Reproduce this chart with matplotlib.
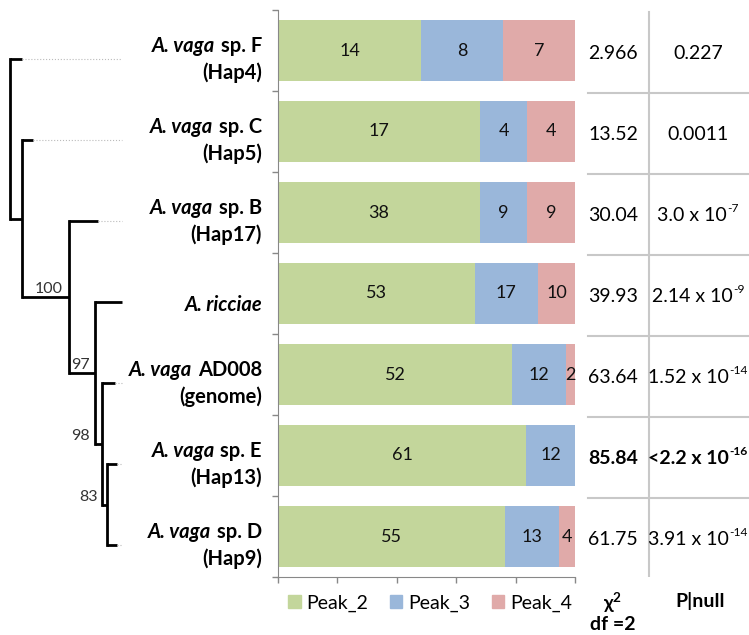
import numpy as np
import matplotlib
matplotlib.use("Agg")
import matplotlib.pyplot as plt
from matplotlib.patches import Patch

plt.rcParams['font.family'] = ['Lato', 'DejaVu Sans']
plt.rcParams['mathtext.fontset'] = 'custom'
plt.rcParams['mathtext.rm'] = 'Lato'
plt.rcParams['mathtext.bf'] = 'Lato:bold'

# data
taxa_italic = ['A. vaga', 'A. vaga', 'A. vaga', 'A. ricciae', 'A. vaga', 'A. vaga', 'A. vaga']
taxa_plain = ['sp. F', 'sp. C', 'sp. B', '', 'AD008', 'sp. E', 'sp. D']
taxa_sub = ['(Hap4)', '(Hap5)', '(Hap17)', '', '(genome)', '(Hap13)', '(Hap9)']
peak_2 = [14, 17, 38, 53, 52, 61, 55]
peak_3 = [8, 4, 9, 17, 12, 12, 13]
peak_4 = [7, 4, 9, 10, 2, 0, 4]
chi2 = ['2.966', '13.52', '30.04', '39.93', '63.64', '85.84', '61.75']
p_base = ['0.227', '0.0011', '3.0 x 10', '2.14 x 10', '1.52 x 10', '<2.2 x 10', '3.91 x 10']
p_exp = ['', '', '-7', '-9', '-14', '-16', '-14']
bold_row = [False, False, False, False, False, True, False]

# tree: (children, node x, support, support label right edge x); leaves are row indices
tree = ([0, ([1, ([2, ([3, ([4, ([5, 6], 107, '83', 98)], 102, '98', 90)], 95, '97', 90)], 69, '100', 63)],
         22, None, None)], 10, None, None)
leaf_x = [22, 33, 98, 122, 115, 117, 117]
leaf_end = 122

colors = ['#c3d69b', '#9ab7da', '#e0aaa9']
W, H = 749, 635
fig = plt.figure(figsize=(W / 100, H / 100), dpi=100)

def rect(x0, x1, y_top=10, y_bot=577):
    return [x0 / W, 1 - y_bot / H, (x1 - x0) / W, (y_bot - y_top) / H]

n = len(peak_2)
rows = np.arange(n)
ylim = (n - 0.5, -0.5)

# stacked bars
ax = fig.add_axes(rect(278, 575))
vals = np.array([peak_2, peak_3, peak_4], dtype=float)
frac = vals / vals.sum(axis=0)
left = np.zeros(n)
for k in range(3):
    bars = ax.barh(rows, frac[k], left=left, height=0.75, color=colors[k])
    labels = [str(int(v)) if v > 0 else '' for v in vals[k]]
    ax.bar_label(bars, labels=labels, label_type='center', fontsize=13, color='#111111')
    left += frac[k]
ax.set_xlim(0, 1)
ax.set_ylim(*ylim)
ax.set_xticks(np.arange(0, 1.01, 0.2))
ax.set_xticklabels([])
ax.set_yticks([])
ax.set_yticks(np.arange(-0.5, n, 1), minor=True)
ax.tick_params(axis='both', which='both', direction='out', length=4.5, color='#888888', width=1)
for s in ['top', 'right']:
    ax.spines[s].set_visible(False)
for s in ['left', 'bottom']:
    ax.spines[s].set_color('#888888')

handles = [Patch(color=c) for c in colors]
fig.legend(handles, ['Peak_2', 'Peak_3', 'Peak_4'], loc='center', ncol=3,
           bbox_to_anchor=(430 / W, 1 - 603 / H), frameon=False, fontsize=14,
           handlelength=0.65, handleheight=0.65, handletextpad=0.3, columnspacing=1.1)

# tree
tax = fig.add_axes(rect(0, 278))
tax.set_xlim(0, 278)
tax.set_ylim(*ylim)
tax.axis('off')
off = 0.11
lw = 2

def draw(node, px):
    if isinstance(node, int):
        y = node + off
        tax.plot([px, leaf_x[node]], [y, y], color='black', lw=lw, solid_capstyle='butt')
        if leaf_x[node] < leaf_end:
            tax.plot([leaf_x[node], leaf_end], [y, y], color='#bbbbbb', lw=0.8, ls=':')
        return y
    children, x, sup, sx = node
    ys = [draw(c, x) for c in children]
    y = np.mean(ys)
    tax.plot([x, x], [min(ys), max(ys)], color='black', lw=lw, solid_capstyle='projecting')
    if px is not None:
        tax.plot([px, x], [y, y], color='black', lw=lw, solid_capstyle='butt')
        if sup:
            tax.text(sx, y - 0.1, sup, ha='right', va='center', fontsize=11.5, color='#333333')
    return y

draw(tree, None)

fs = 14.5
for i in rows:
    y = i + off
    if taxa_sub[i]:
        y1, y2 = y - 0.16, y + 0.16
    else:
        y1 = y + 0.03
    if taxa_plain[i]:
        t = tax.text(262, y1, taxa_plain[i], ha='right', va='center', fontsize=fs, fontweight='bold')
        tax.annotate(taxa_italic[i], xy=(0, 0.5), xycoords=t, xytext=(-4, 0), textcoords='offset points',
                     ha='right', va='center', fontsize=fs, fontweight='bold', fontstyle='italic')
    else:
        tax.text(262, y1, taxa_italic[i], ha='right', va='center', fontsize=fs, fontweight='bold',
                 fontstyle='italic')
    if taxa_sub[i]:
        tax.text(262, y2, taxa_sub[i], ha='right', va='center', fontsize=fs, fontweight='bold')

# table (axes x units are pixels)
tb = fig.add_axes(rect(575, 749))
tb.set_xlim(575, 749)
tb.set_ylim(*ylim)
tb.axis('off')
tb.plot([649, 649], [-0.47, n - 0.48], color='#c8c8c8', lw=1.5)
for b in np.arange(0.5, n - 0.5, 1):
    tb.plot([588, 749], [b + 0.03, b + 0.03], color='#c8c8c8', lw=1.5)
tfs = 14
pcx = 698
renderer = fig.canvas.get_renderer()
for i in rows:
    w = 'bold' if bold_row[i] else 'normal'
    tb.text(613, i + 0.04, chi2[i], ha='center', va='center', fontsize=tfs, fontweight=w)
    if p_exp[i]:
        t = tb.text(pcx, i + 0.04, p_base[i], ha='left', va='center', fontsize=tfs, fontweight=w)
        e = tb.annotate(p_exp[i], xy=(1, 0.6), xycoords=t, xytext=(0.3, 0), textcoords='offset points',
                        ha='left', va='bottom', fontsize=tfs * 0.62, fontweight=w)
        bb = t.get_window_extent(renderer)
        eb = e.get_window_extent(renderer)
        t.set_x(pcx - (eb.x1 - bb.x0) / 2)
    else:
        tb.text(pcx, i + 0.04, p_base[i], ha='center', va='center', fontsize=tfs, fontweight=w)

fig.text(613 / W, 1 - 603 / H, r'$\mathbf{\chi^2}$', ha='center', va='center', fontsize=14)
fig.text(613 / W, 1 - 625 / H, 'df =2', ha='center', va='center', fontsize=14, fontweight='bold')
fig.text(700 / W, 1 - 601 / H, 'P|null', ha='center', va='center', fontsize=14, fontweight='bold')

fig.savefig('out.png', dpi=100)
